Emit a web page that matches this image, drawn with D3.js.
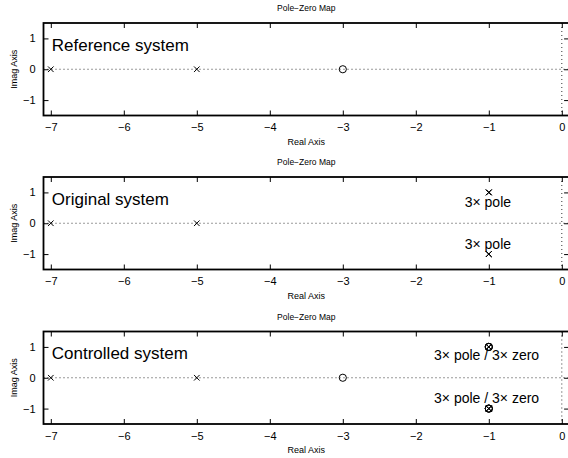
<!DOCTYPE html>
<html>
<head>
<meta charset="utf-8">
<script src="https://cdn.jsdelivr.net/npm/d3@7"></script>
<style>
  body { margin: 0; background: #fff; }
  text { font-family: "Liberation Sans", Arial, Helvetica, sans-serif; fill: #000; }
</style>
</head>
<body>
<div id="chart"></div>
<script>
// panel names and annotation labels
var panelNames = ["Reference system", "Original system", "Controlled system"];

// poles and zeros, as [real, imag] pairs (repeated roots listed each time)
var refPoles = [[-7, 0], [-5, 0]];
var refZeros = [[-3, 0]];
var origPoles = [[-7, 0], [-5, 0], [-1, 1], [-1, 1], [-1, 1], [-1, -1], [-1, -1], [-1, -1]];
var origZeros = [];
var ctrlPoles = [[-7, 0], [-5, 0], [-1, 1], [-1, 1], [-1, 1], [-1, -1], [-1, -1], [-1, -1]];
var ctrlZeros = [[-3, 0], [-1, 1], [-1, 1], [-1, 1], [-1, -1], [-1, -1], [-1, -1]];

// multiplicity labels: [real, imag, text]
var origNotes = [[-1.33, 0.53, "3\u00d7 pole"], [-1.33, -0.83, "3\u00d7 pole"]];
var ctrlNotes = [[-1.75, 0.57, "3\u00d7 pole / 3\u00d7 zero"], [-1.75, -0.82, "3\u00d7 pole / 3\u00d7 zero"]];

var xTicks = [-7, -6, -5, -4, -3, -2, -1, 0];
var yTicks = [-1, 0, 1];
var xDomain = [-7.1, 0.1];
var yDomain = [-1.5, 1.5];

var panels = [
  { name: panelNames[0], poles: refPoles, zeros: refZeros, notes: [] },
  { name: panelNames[1], poles: origPoles, zeros: origZeros, notes: origNotes },
  { name: panelNames[2], poles: ctrlPoles, zeros: ctrlZeros, notes: ctrlNotes }
];

var W = 568, H = 458;
var left = 43.5, plotW = 525.6, plotH = 92.5;
var tops = [23, 177, 331.5];

var svg = d3.select("#chart").append("svg")
  .attr("width", W)
  .attr("height", H);

var x = d3.scaleLinear().domain(xDomain).range([0, plotW]);
var y = d3.scaleLinear().domain(yDomain).range([plotH, 0]);
var fmt = d3.format("d");

panels.forEach(function (p, i) {
  var g = svg.append("g")
    .attr("transform", "translate(" + left + "," + tops[i] + ")");

  // title
  g.append("text")
    .attr("x", plotW / 2)
    .attr("y", -12)
    .attr("text-anchor", "middle")
    .style("font-size", "8.5px")
    .text("Pole\u2212Zero Map");

  // dotted zero lines
  g.append("line")
    .attr("x1", 0).attr("x2", plotW)
    .attr("y1", y(0)).attr("y2", y(0))
    .attr("stroke", "#000").attr("stroke-width", 0.8)
    .attr("stroke-dasharray", "1,3");
  g.append("line")
    .attr("x1", x(0)).attr("x2", x(0))
    .attr("y1", 0).attr("y2", plotH)
    .attr("stroke", "#000").attr("stroke-width", 0.8)
    .attr("stroke-dasharray", "1,3");

  // axes, ticks pointing inwards on all sides
  var xAxis = g.append("g")
    .attr("transform", "translate(0," + plotH + ")")
    .call(d3.axisBottom(x).tickValues(xTicks).tickFormat(fmt).tickSizeInner(-5).tickSizeOuter(0).tickPadding(8));
  var xTop = g.append("g")
    .call(d3.axisTop(x).tickValues(xTicks).tickSizeInner(-5).tickSizeOuter(0).tickFormat(""));
  var yAxis = g.append("g")
    .call(d3.axisLeft(y).tickValues(yTicks).tickFormat(fmt).tickSizeInner(-5).tickSizeOuter(0).tickPadding(8));
  var yRight = g.append("g")
    .attr("transform", "translate(" + plotW + ",0)")
    .call(d3.axisRight(y).tickValues(yTicks).tickSizeInner(-5).tickSizeOuter(0).tickFormat(""));

  [xAxis, xTop, yAxis, yRight].forEach(function (a) {
    a.select(".domain").remove();
    a.selectAll(".tick line").attr("stroke", "#000").attr("stroke-width", 1);
    a.selectAll("text").style("font-size", "11px").attr("fill", "#000")
      .style("font-family", "'Liberation Sans', Arial, sans-serif");
  });

  // box
  g.append("rect")
    .attr("x", 0).attr("y", 0)
    .attr("width", plotW).attr("height", plotH)
    .attr("fill", "none")
    .attr("stroke", "#000")
    .attr("stroke-width", 1.8);

  // axis labels
  g.append("text")
    .attr("x", plotW / 2)
    .attr("y", plotH + 29)
    .attr("text-anchor", "middle")
    .style("font-size", "9px")
    .text("Real Axis");
  g.append("text")
    .attr("transform", "translate(" + (-27) + "," + (plotH / 2) + ") rotate(-90)")
    .attr("text-anchor", "middle")
    .style("font-size", "9px")
    .text("Imag Axis");

  // poles (x marks)
  var s = 2.8;
  g.selectAll("path.pole")
    .data(p.poles)
    .enter().append("path")
    .attr("class", "pole")
    .attr("d", function (d) {
      var cx = x(d[0]), cy = y(d[1]);
      return "M" + (cx - s) + "," + (cy - s) + "L" + (cx + s) + "," + (cy + s) +
        "M" + (cx - s) + "," + (cy + s) + "L" + (cx + s) + "," + (cy - s);
    })
    .attr("stroke", "#000")
    .attr("stroke-width", 1)
    .attr("fill", "none");

  // zeros (circles)
  g.selectAll("circle.zero")
    .data(p.zeros)
    .enter().append("circle")
    .attr("class", "zero")
    .attr("cx", function (d) { return x(d[0]); })
    .attr("cy", function (d) { return y(d[1]); })
    .attr("r", 3.6)
    .attr("stroke", "#000")
    .attr("stroke-width", 1)
    .attr("fill", "none");

  // system name
  g.append("text")
    .attr("x", x(-7) + 1)
    .attr("y", y(0.6))
    .style("font-size", "17px")
    .text(p.name);

  // multiplicity notes
  g.selectAll("text.note")
    .data(p.notes)
    .enter().append("text")
    .attr("class", "note")
    .attr("x", function (d) { return x(d[0]); })
    .attr("y", function (d) { return y(d[1]); })
    .style("font-size", "14px")
    .text(function (d) { return d[2]; });
});
</script>
</body>
</html>
